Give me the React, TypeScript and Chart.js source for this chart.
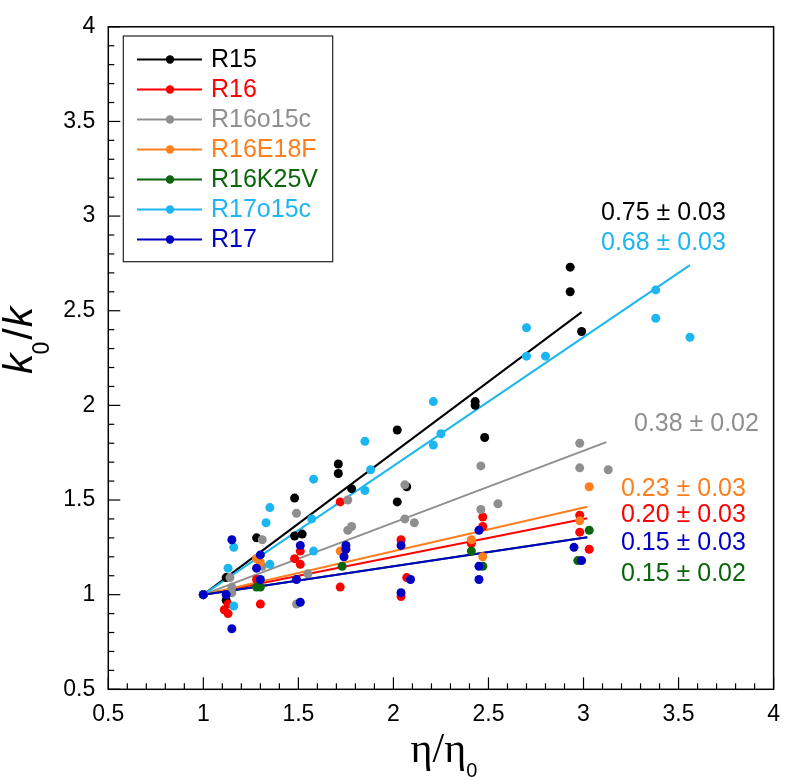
import React, { useEffect, useRef } from "react";
import { Chart, registerables } from "chart.js";
Chart.register(...registerables);

// ---- data ----
const seriesNames = ["R15", "R16", "R16o15c", "R16E18F", "R16K25V", "R17o15c", "R17"];
const seriesColors = ["#000000", "#ff0000", "#8f8f8f", "#ff7f1e", "#0b650b", "#1db6f0", "#0000c4"];

const r15X = [1, 1.12, 1.12, 1.28, 1.48, 1.48, 1.52, 1.71, 1.71, 1.78, 2.02, 2.02, 2.07, 2.43, 2.43, 2.48, 2.93, 2.93, 2.99];
const r15Y = [1, 0.97, 1.09, 1.30, 1.51, 1.31, 1.32, 1.69, 1.64, 1.56, 1.87, 1.49, 1.57, 2.02, 2.00, 1.83, 2.73, 2.60, 2.39];

const r16X = [1, 1.13, 1.11, 1.13, 1.28, 1.30, 1.51, 1.51, 1.48, 1.72, 1.72, 2.04, 2.07, 2.04, 2.47, 2.47, 2.41, 2.98, 2.98, 3.03];
const r16Y = [1, 0.95, 0.92, 0.90, 1.08, 0.95, 1.23, 1.16, 1.19, 1.49, 1.04, 1.29, 1.09, 0.99, 1.41, 1.36, 1.27, 1.42, 1.33, 1.24];

const r16o15cX = [1, 1.14, 1.15, 1.15, 1.31, 1.31, 1.49, 1.49, 1.55, 1.76, 1.78, 1.76, 2.06, 2.06, 2.11, 2.46, 2.46, 2.55, 2.98, 2.98, 3.13];
const r16o15cY = [1, 1.09, 1.01, 1.04, 1.29, 1.15, 1.43, 0.95, 1.11, 1.34, 1.36, 1.50, 1.58, 1.40, 1.38, 1.68, 1.45, 1.48, 1.80, 1.67, 1.66];

const r16e18fX = [1, 1.28, 1.30, 1.72, 2.41, 2.47, 2.98, 3.03];
const r16e18fY = [1, 1.19, 1.17, 1.23, 1.29, 1.20, 1.39, 1.57];

const r16k25vX = [1, 1.28, 1.30, 1.73, 2.41, 2.47, 2.97, 3.03];
const r16k25vY = [1, 1.04, 1.04, 1.15, 1.23, 1.15, 1.18, 1.34];

const r17o15cX = [1, 1.16, 1.13, 1.16, 1.35, 1.33, 1.35, 1.57, 1.58, 1.58, 1.85, 1.88, 1.85, 2.21, 2.25, 2.21, 2.70, 2.70, 2.80, 3.38, 3.38, 3.56];
const r17o15cY = [1, 0.94, 1.14, 1.25, 1.46, 1.38, 1.16, 1.40, 1.61, 1.23, 1.81, 1.66, 1.55, 2.02, 1.85, 1.79, 2.41, 2.26, 2.26, 2.61, 2.46, 2.36];

const r17X = [1, 1.15, 1.12, 1.15, 1.28, 1.30, 1.30, 1.49, 1.51, 1.51, 1.75, 1.75, 1.74, 2.04, 2.09, 2.04, 2.45, 2.45, 2.45, 2.95, 2.99];
const r17Y = [1, 0.82, 1.00, 1.29, 1.14, 1.21, 1.08, 1.08, 1.26, 0.96, 1.26, 1.24, 1.20, 1.26, 1.08, 1.01, 1.34, 1.15, 1.08, 1.25, 1.18];

const seriesX = [r15X, r16X, r16o15cX, r16e18fX, r16k25vX, r17o15cX, r17X];
const seriesY = [r15Y, r16Y, r16o15cY, r16e18fY, r16k25vY, r17o15cY, r17Y];

const fitSlopes = [0.75, 0.20, 0.38, 0.23, 0.15, 0.68, 0.15];
const fitEndX = [2.99, 3.02, 3.12, 3.02, 3.02, 3.56, 3.02];
const slopeLabels = ["0.75 ± 0.03", "0.20 ± 0.03", "0.38 ± 0.02", "0.23 ± 0.03", "0.15 ± 0.02", "0.68 ± 0.03", "0.15 ± 0.03"];

const axisMin = 0.5;
const axisMax = 4;
const majorStep = 0.5;
const minorStep = 0.1;

// ---- style / layout ----
const SANS = '"Liberation Sans", Arial, Helvetica, sans-serif';
const SERIF = '"Liberation Serif", "Times New Roman", serif';
const labelPos: [number, number][] = [
  [601, 213], [621, 515], [634, 424], [621, 489], [621, 574], [601, 243], [621, 543],
];

const decorPlugin = {
  id: "decor",
  afterDraw(chart: any) {
    const { ctx, chartArea: a, scales } = chart;
    const xs = scales.x;
    const ys = scales.y;
    ctx.save();
    ctx.strokeStyle = "#000";
    ctx.lineWidth = 1.5;
    ctx.strokeRect(a.left, a.top, a.right - a.left, a.bottom - a.top);
    // inward ticks
    ctx.lineWidth = 1.2;
    const n = Math.round((axisMax - axisMin) / minorStep);
    const per = Math.round(majorStep / minorStep);
    for (let i = 0; i <= n; i++) {
      const v = axisMin + i * minorStep;
      const len = i % per === 0 ? 12 : 6;
      const px = xs.getPixelForValue(v);
      ctx.beginPath();
      ctx.moveTo(px, a.bottom);
      ctx.lineTo(px, a.bottom - len);
      ctx.stroke();
      const py = ys.getPixelForValue(v);
      ctx.beginPath();
      ctx.moveTo(a.left, py);
      ctx.lineTo(a.left + len, py);
      ctx.stroke();
    }
    // slope labels
    ctx.font = `25px ${SANS}`;
    ctx.textBaseline = "middle";
    ctx.textAlign = "left";
    for (let i = 0; i < slopeLabels.length; i++) {
      ctx.fillStyle = seriesColors[i];
      ctx.fillText(slopeLabels[i], labelPos[i][0], labelPos[i][1]);
    }
    // legend
    const lx = 123.3, ly = 36, lw = 209.4, lh = 225.7;
    ctx.fillStyle = "#fff";
    ctx.fillRect(lx, ly, lw, lh);
    ctx.strokeStyle = "#222";
    ctx.lineWidth = 1.2;
    ctx.strokeRect(lx, ly, lw, lh);
    ctx.font = `25px ${SANS}`;
    for (let i = 0; i < seriesNames.length; i++) {
      const y = 59.5 + 30 * i;
      ctx.strokeStyle = seriesColors[i];
      ctx.lineWidth = 2;
      ctx.beginPath();
      ctx.moveTo(137, y);
      ctx.lineTo(202, y);
      ctx.stroke();
      ctx.fillStyle = seriesColors[i];
      ctx.beginPath();
      ctx.arc(170, y, 4.2, 0, Math.PI * 2);
      ctx.fill();
      ctx.fillText(seriesNames[i], 211, y + 1);
    }
    // x title: η/η0
    ctx.fillStyle = "#000";
    ctx.textBaseline = "alphabetic";
    ctx.font = `42px ${SERIF}`;
    const main = "η/η";
    const wMain = ctx.measureText(main).width;
    ctx.font = `20px ${SANS}`;
    const wSub = ctx.measureText("0").width;
    const cx = (a.left + a.right) / 2 + 3;
    const startX = cx - (wMain + wSub) / 2;
    ctx.font = `42px ${SERIF}`;
    ctx.fillText(main, startX, 762);
    ctx.font = `20px ${SANS}`;
    ctx.fillText("0", startX + wMain, 777);
    // y title: k0/k rotated
    ctx.save();
    ctx.translate(32, 374);
    ctx.rotate(-Math.PI / 2);
    let x = 0;
    ctx.font = `italic 41px ${SANS}`;
    ctx.fillText("k", x, 0);
    x += ctx.measureText("k").width;
    ctx.font = `23px ${SANS}`;
    ctx.fillText("0", x - 1, 17);
    x += ctx.measureText("0").width + 1;
    ctx.font = `41px ${SANS}`;
    ctx.fillText("/", x, 0);
    x += ctx.measureText("/").width + 1;
    ctx.font = `italic 41px ${SANS}`;
    ctx.fillText("k", x, 0);
    ctx.restore();
    ctx.restore();
  },
};

export default function App() {
  const ref = useRef<HTMLCanvasElement | null>(null);
  useEffect(() => {
    if (!ref.current) return;
    const datasets: any[] = [];
    for (let i = 0; i < seriesNames.length; i++) {
      datasets.push({
        label: seriesNames[i],
        data: seriesX[i].map((xv, j) => ({ x: xv, y: seriesY[i][j] })),
        backgroundColor: seriesColors[i],
        borderColor: seriesColors[i],
        pointRadius: 4.5,
        pointHoverRadius: 4.5,
        pointBorderWidth: 0,
        showLine: false,
        order: seriesNames.length - 1 - i,
      });
    }
    for (let i = 0; i < seriesNames.length; i++) {
      datasets.push({
        label: seriesNames[i] + " fit",
        data: [
          { x: 1, y: 1 },
          { x: fitEndX[i], y: 1 + fitSlopes[i] * (fitEndX[i] - 1) },
        ],
        borderColor: seriesColors[i],
        backgroundColor: seriesColors[i],
        borderWidth: 2,
        pointRadius: 0,
        showLine: true,
        order: 20 + seriesNames.length - 1 - i,
      });
    }
    const tickFont = { family: SANS, size: 23 };
    const chart = new Chart(ref.current, {
      type: "scatter",
      data: { datasets },
      plugins: [decorPlugin],
      options: {
        animation: false,
        responsive: false,
        events: [],
        layout: { padding: { top: 14, right: 8.7, left: 0, bottom: 0 } },
        plugins: { legend: { display: false }, tooltip: { enabled: false } },
        scales: {
          x: {
            type: "linear",
            min: axisMin,
            max: axisMax,
            grid: { display: false, drawTicks: false },
            border: { display: false },
            ticks: {
              stepSize: majorStep,
              color: "#000",
              font: tickFont,
              padding: 12,
              maxRotation: 0,
              callback: (v: any) => String(+Number(v).toFixed(1)),
            },
            afterFit: (s: any) => { s.height = 90.7; },
          },
          y: {
            type: "linear",
            min: axisMin,
            max: axisMax,
            grid: { display: false, drawTicks: false },
            border: { display: false },
            ticks: {
              stepSize: majorStep,
              color: "#000",
              font: tickFont,
              padding: 13,
              callback: (v: any) => String(+Number(v).toFixed(1)),
            },
            afterFit: (s: any) => { s.width = 108.3; },
          },
        },
      },
    } as any);
    return () => chart.destroy();
  }, []);
  return (
    <div style={{ position: "absolute", left: 0, top: 0, width: 792, height: 780, background: "#fff" }}>
      <canvas ref={ref} width={792} height={780} style={{ display: "block" }} />
    </div>
  );
}
